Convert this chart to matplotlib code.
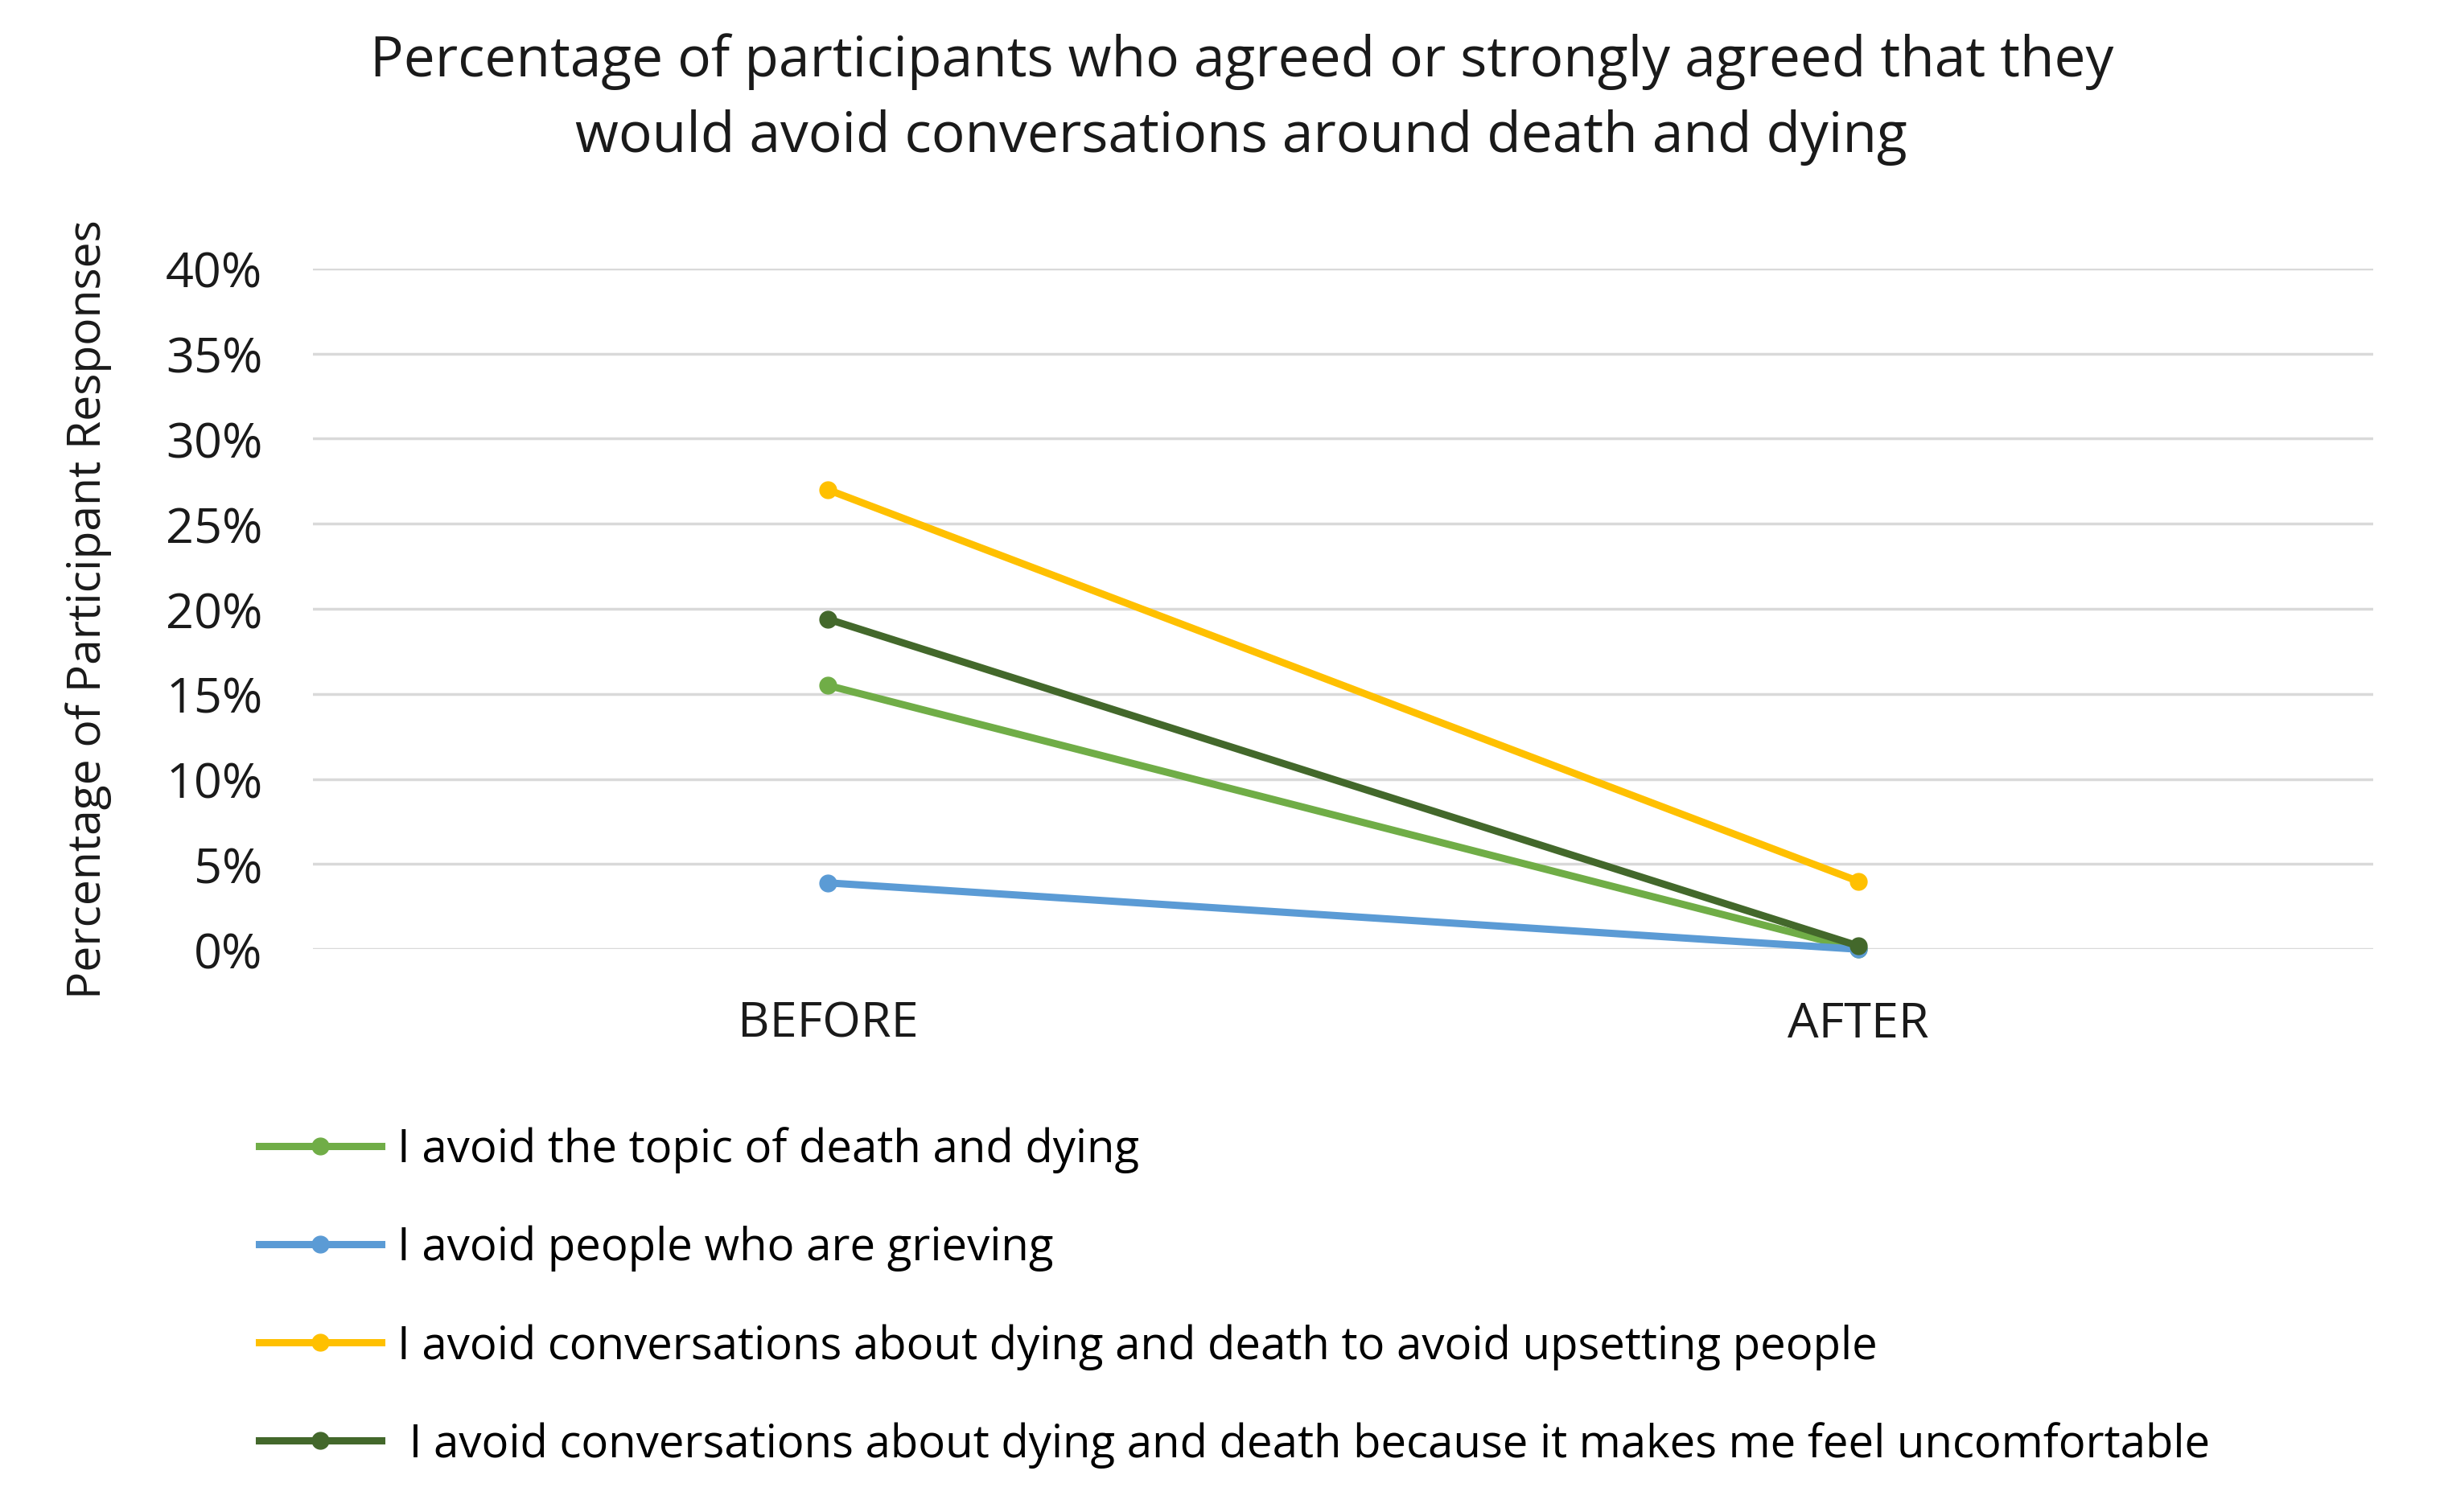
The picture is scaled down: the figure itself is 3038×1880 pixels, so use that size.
import numpy as np
import matplotlib.pyplot as plt
from matplotlib.ticker import PercentFormatter

plt.rcParams['font.family'] = ['Open Sans', 'DejaVu Sans']

momentos = ["BEFORE", "AFTER"]
series = [
    "I avoid the topic of death and dying",
    "I avoid people who are grieving",
    "I avoid conversations about dying and death to avoid upsetting people",
    " I avoid conversations about dying and death because it makes me feel uncomfortable",
]
tema = [15.5, 0.0]
duelo = [3.9, 0.0]
molestar = [27.0, 4.0]
incomodo = [19.4, 0.2]
colores = ["#70AD47", "#5B9BD5", "#FFC000", "#43682B"]

fig = plt.figure(figsize=(30.38, 18.81), dpi=100)
ax = fig.add_axes([0.128, 0.372, 0.843, 0.45])

x = np.arange(len(momentos))
for nombre, valores, color in zip(series, [tema, duelo, molestar, incomodo], colores):
    ax.plot(x, valores, color=color, lw=6.5, marker="o", markersize=15,
            label=nombre, clip_on=False, zorder=3)

ax.set_xlim(-0.5, 1.5)
ax.set_ylim(0, 40)
ax.set_yticks(np.arange(0, 41, 5))
ax.yaxis.set_major_formatter(PercentFormatter(decimals=0))
ax.set_xticks(x)
ax.set_xticklabels(momentos)
ax.grid(axis="y", color="#D9D9D9", lw=2.5)
ax.set_axisbelow(True)
for s in ax.spines.values():
    s.set_visible(False)
ax.tick_params(length=0, labelsize=44, colors="#1a1a1a")
ax.tick_params(axis="y", pad=45)
ax.tick_params(axis="x", pad=45)
ax.set_ylabel("Percentage of Participant Responses", fontsize=41, labelpad=48,
              color="#1a1a1a")

fig.suptitle("Percentage of participants who agreed or strongly agreed that they\n"
             "would avoid conversations around death and dying",
             x=0.508, y=0.978, fontsize=50, linespacing=1.45, color="#1a1a1a")

fig.legend(loc="upper left", bbox_to_anchor=(0.106, 0.255), frameon=False,
           fontsize=40.5, handlelength=2.7, labelspacing=1.15, handletextpad=0.35,
           borderpad=0, borderaxespad=0)

fig.savefig("out.png", dpi=100, facecolor="white")
